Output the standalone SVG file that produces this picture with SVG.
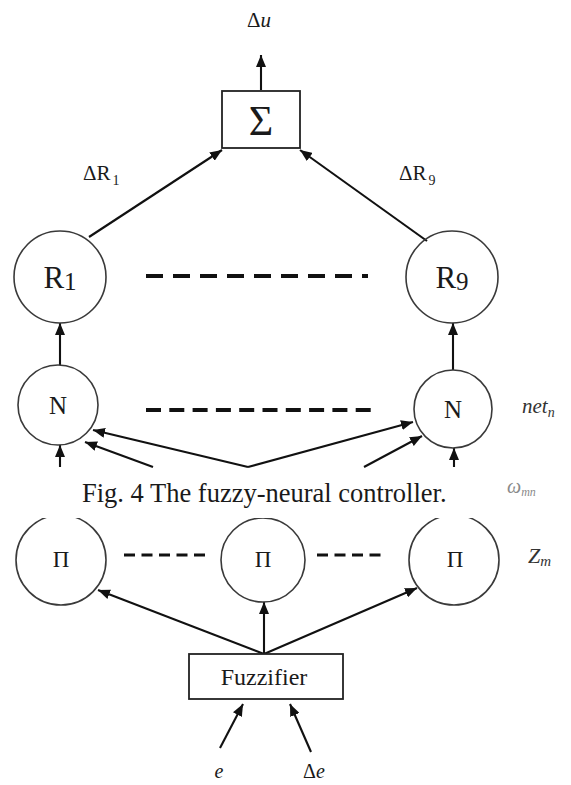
<svg xmlns="http://www.w3.org/2000/svg" width="571" height="785" viewBox="0 0 571 785" font-family="'Liberation Serif', 'Times New Roman', 'DejaVu Serif', serif">
<style>
text{font-family:'Liberation Serif','Times New Roman','DejaVu Serif',serif;fill:#1a1a1a}
.node circle{fill:none;stroke:#3a3a3a;stroke-width:1.6}
.box rect{fill:#fff;stroke:#222;stroke-width:1.8}
.conn line{stroke:#111;stroke-width:2.1}
.arr{marker-end:url(#ah)}
.dash{stroke:#111;fill:none}
.it{font-style:italic}
.lbl{fill:#333}
.lt{fill:#8a8a8a}
</style>
<defs>
<marker id="ah" markerUnits="userSpaceOnUse" markerWidth="12" markerHeight="10" refX="12" refY="5" orient="auto">
<path d="M0,0 L12,5 L0,10 z" fill="#111"/>
</marker>
<clipPath id="cut"><rect x="0" y="518" width="571" height="267"/></clipPath>
</defs>

<g id="connectors" class="conn">
<line class="arr" x1="261" y1="90" x2="261" y2="55"/>
<line class="arr" x1="89" y1="237" x2="222" y2="150"/>
<line class="arr" x1="427" y1="241" x2="300" y2="150"/>
<line class="arr" x1="60" y1="365" x2="60" y2="323"/>
<line class="arr" x1="453" y1="370" x2="453" y2="323"/>
<line class="arr" x1="248" y1="467" x2="93" y2="430"/>
<line class="arr" x1="153" y1="467" x2="85" y2="442"/>
<line class="arr" x1="248" y1="467" x2="413" y2="422"/>
<line class="arr" x1="364" y1="467" x2="422" y2="436"/>
<line class="arr" x1="60" y1="467" x2="60" y2="445"/>
<line class="arr" x1="454" y1="467" x2="454" y2="448"/>
<line class="arr" x1="264" y1="654" x2="98" y2="590"/>
<line class="arr" x1="264" y1="654" x2="417" y2="588"/>
<line class="arr" x1="264" y1="654" x2="264" y2="602"/>
<line class="arr" x1="220" y1="748" x2="243" y2="704"/>
<line class="arr" x1="311" y1="752" x2="290" y2="704"/>
</g>

<g id="dashes">
<line class="dash" x1="146" y1="276" x2="368" y2="276" stroke-width="4" stroke-dasharray="17 10"/>
<line class="dash" x1="146" y1="410" x2="371" y2="410" stroke-width="4" stroke-dasharray="15 8.3"/>
<line class="dash" x1="124" y1="555" x2="208" y2="555" stroke-width="3" stroke-dasharray="11 6.5"/>
<line class="dash" x1="317" y1="555" x2="384" y2="555" stroke-width="3" stroke-dasharray="11 6.5"/>
</g>

<g id="out-label"><text x="259" y="27" font-size="21" text-anchor="middle">Δ<tspan class="it">u</tspan></text></g>

<g id="sum" class="box">
<rect x="222" y="91" width="78" height="57"/>
<text x="261" y="135" font-size="42" text-anchor="middle">Σ</text>
</g>

<g id="dr-labels">
<text x="83" y="180" font-size="21">ΔR<tspan font-size="14" dx="2" dy="5">1</tspan></text>
<text x="399" y="180" font-size="21">ΔR<tspan font-size="14" dx="2" dy="5">9</tspan></text>
</g>

<g id="r1" class="node">
<circle cx="60" cy="277" r="46"/>
<text x="60" y="288" font-size="31" text-anchor="middle">R<tspan font-size="25" dy="2">1</tspan></text>
</g>
<g id="r9" class="node">
<circle cx="452" cy="277" r="46"/>
<text x="452" y="288" font-size="31" text-anchor="middle">R<tspan font-size="25" dy="2">9</tspan></text>
</g>

<g id="n1" class="node">
<circle cx="58" cy="405" r="40"/>
<text x="58" y="414" font-size="25" text-anchor="middle">N</text>
</g>
<g id="n2" class="node">
<circle cx="453" cy="409" r="39"/>
<text x="453" y="418" font-size="25" text-anchor="middle">N</text>
</g>

<g id="layer-labels">
<text class="lbl it" x="522" y="413" font-size="21">net<tspan font-size="14" dy="4">n</tspan></text>
<text class="lt it" x="507" y="493" font-size="20">ω<tspan font-size="12" dy="3">mn</tspan></text>
<text class="lbl it" x="528" y="563" font-size="22">Z<tspan font-size="15" dy="3">m</tspan></text>
</g>

<g id="caption"><text x="82" y="502" font-size="26.5">Fig. 4 The fuzzy-neural controller.</text></g>

<g id="p1" class="node">
<circle cx="61" cy="560" r="45" clip-path="url(#cut)"/>
<text x="61" y="567" font-size="23" text-anchor="middle">Π</text>
</g>
<g id="p2" class="node">
<circle cx="263" cy="560" r="42" clip-path="url(#cut)"/>
<text x="263" y="567" font-size="23" text-anchor="middle">Π</text>
</g>
<g id="p3" class="node">
<circle cx="454" cy="560" r="45" clip-path="url(#cut)"/>
<text x="455" y="567" font-size="23" text-anchor="middle">Π</text>
</g>

<g id="fuzzifier" class="box">
<rect x="189" y="654" width="154" height="45"/>
<text x="264" y="685" font-size="24" text-anchor="middle">Fuzzifier</text>
</g>

<g id="inputs">
<text class="it" x="219" y="778" font-size="20" text-anchor="middle">e</text>
<text x="314" y="778" font-size="20" text-anchor="middle">Δ<tspan class="it">e</tspan></text>
</g>
</svg>
